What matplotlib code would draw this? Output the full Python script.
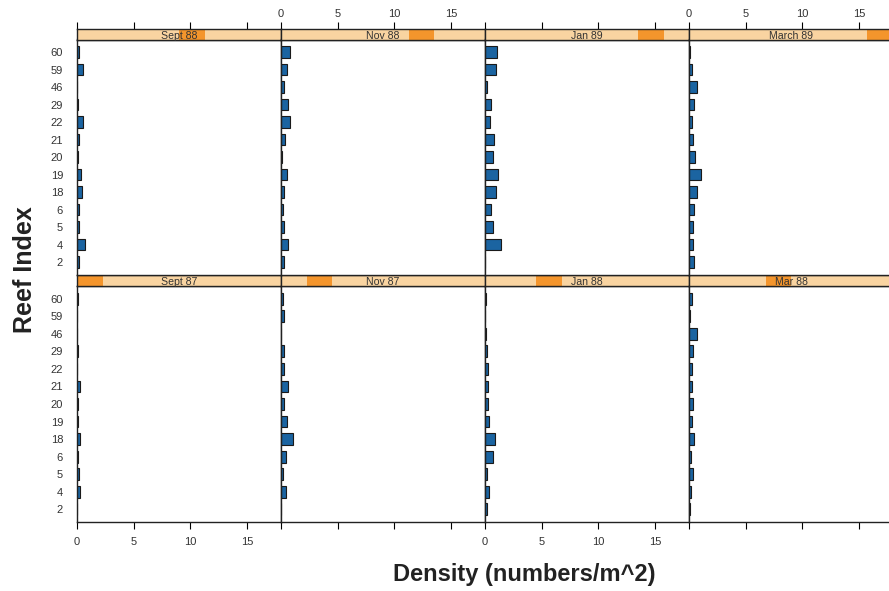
import matplotlib
matplotlib.use("Agg")
import matplotlib.pyplot as plt
from matplotlib.patches import Rectangle

plt.rcParams['font.family'] = ['Liberation Sans', 'DejaVu Sans']

# Reef indices, listed top to bottom
reefs = ["60", "59", "46", "29", "22", "21", "20", "19", "18", "6", "5", "4", "2"]

# Survey periods, in chronological order
periods = ["Sept 87", "Nov 87", "Jan 88", "Mar 88",
           "Sept 88", "Nov 88", "Jan 89", "March 89"]

# Density (numbers/m^2) per reef, same order as reefs
sept87 = [0.12, 0.02, 0.0, 0.07, 0.02, 0.28, 0.12, 0.05, 0.25, 0.10, 0.15, 0.28, 0.02]
nov87 = [0.20, 0.30, 0.0, 0.30, 0.27, 0.60, 0.25, 0.50, 1.10, 0.42, 0.15, 0.47, 0.0]
jan88 = [0.05, 0.02, 0.05, 0.15, 0.23, 0.23, 0.23, 0.32, 0.85, 0.73, 0.18, 0.38, 0.20]
mar88 = [0.23, 0.10, 0.70, 0.35, 0.27, 0.30, 0.35, 0.27, 0.47, 0.20, 0.35, 0.20, 0.08]
sept88 = [0.22, 0.50, 0.03, 0.07, 0.50, 0.22, 0.10, 0.32, 0.40, 0.22, 0.15, 0.70, 0.15]
nov88 = [0.80, 0.55, 0.30, 0.60, 0.80, 0.35, 0.12, 0.55, 0.25, 0.20, 0.25, 0.65, 0.25]
jan89 = [1.10, 0.97, 0.15, 0.55, 0.40, 0.80, 0.73, 1.18, 0.95, 0.55, 0.73, 1.40, 0.0]
mar89 = [0.12, 0.30, 0.73, 0.45, 0.30, 0.35, 0.53, 1.06, 0.70, 0.40, 0.35, 0.35, 0.47]

series = [sept87, nov87, jan88, mar88, sept88, nov88, jan89, mar89]

x_ticks = [0, 5, 10, 15]
x_lim = (0, 18)

W, H = 889, 591
fig = plt.figure(figsize=(W / 100, H / 100), dpi=100)

BAR = "#1b64a1"
EDGE = "#1a1a1a"
STRIP_BG = "#f9d4a1"
STRIP_FG = "#f4952c"
TXT = "#333333"
TICK_FS = 8

col_left = [77, 281, 485, 689]
col_w = 204
# (strip_top, panel_top, panel_bottom) in pixels, row 0 = top row
rows = [(29, 39.5, 274.7), (274.7, 286, 522)]


def fig_rect(left, top, width, height):
    return [left / W, 1 - (top + height) / H, width / W, height / H]


ypos = list(range(len(reefs), 0, -1))

for idx, (label, vals) in enumerate(zip(periods, series)):
    r = 1 if idx < 4 else 0
    c = idx % 4
    s_top, p_top, p_bot = rows[r]
    left = col_left[c]

    ax = fig.add_axes(fig_rect(left, p_top, col_w, p_bot - p_top))
    ax.barh(ypos, vals, height=0.67, color=BAR, edgecolor=EDGE, linewidth=0.8)
    ax.set_xlim(*x_lim)
    ax.set_ylim(0.28, len(reefs) + 0.72)
    for sp in ax.spines.values():
        sp.set_linewidth(1.0)
        sp.set_color("#222222")

    if c == 0:
        ax.set_yticks(ypos)
        ax.set_yticklabels(reefs)
        ax.tick_params(axis="y", length=0, pad=10, labelsize=TICK_FS, labelcolor=TXT)
    else:
        ax.set_yticks([])

    if r == 1:
        ax.set_xticks(x_ticks)
        ax.tick_params(axis="x", direction="out", length=5, width=0.8,
                       pad=6, labelsize=TICK_FS, labelcolor=TXT)
        if c % 2 == 1:
            ax.set_xticklabels([])
    else:
        ax.set_xticks([])

    # strip with the period name and its position among the periods
    sax = fig.add_axes(fig_rect(left, s_top, col_w, p_top - s_top))
    sax.set_xlim(*x_lim)
    sax.set_ylim(0, 1)
    span = x_lim[1] - x_lim[0]
    sax.add_patch(Rectangle((0, 0), span, 1, facecolor=STRIP_BG, edgecolor="none"))
    sax.add_patch(Rectangle((idx * span / 8, 0), span / 8, 1,
                            facecolor=STRIP_FG, edgecolor="none"))
    sax.text(span / 2, 0.38, label, ha="center", va="center", fontsize=7.6, color=TXT)
    sax.set_yticks([])
    for sp in sax.spines.values():
        sp.set_linewidth(1.0)
        sp.set_color("#222222")
    if r == 0:
        sax.xaxis.set_ticks_position("top")
        sax.set_xticks(x_ticks)
        sax.tick_params(axis="x", direction="out", length=5, width=0.8,
                        pad=2.5, labelsize=TICK_FS, labelcolor=TXT)
        if c % 2 == 0:
            sax.set_xticklabels([])
    else:
        sax.set_xticks([])

fig.text(25 / W, 1 - 270 / H, "Reef Index", rotation=90, ha="center", va="center",
         fontsize=18, fontweight="bold", color="#222222")
fig.text(524 / W, 1 - 575 / H, "Density (numbers/m^2)", ha="center", va="center",
         fontsize=17, fontweight="bold", color="#222222")

fig.savefig("out.png", dpi=100)
